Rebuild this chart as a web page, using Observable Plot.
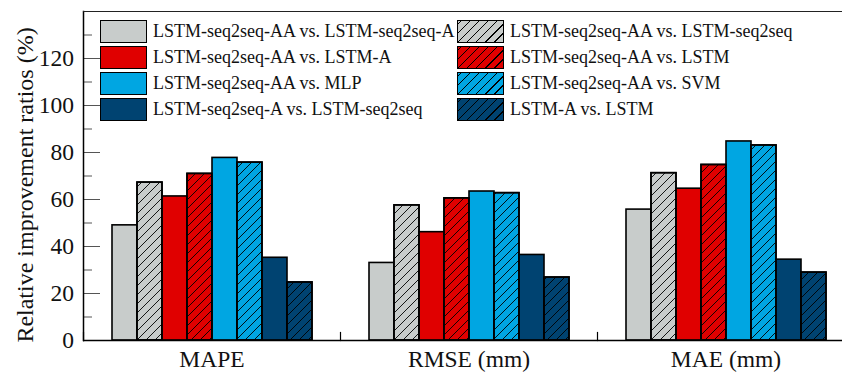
<!DOCTYPE html>
<html><head><meta charset="utf-8">
<script src="https://cdn.jsdelivr.net/npm/d3@7"></script>
<script src="https://cdn.jsdelivr.net/npm/@observablehq/plot@0.6"></script>
<style>
body{margin:0;background:#fff;overflow:hidden}
#wrap{position:relative;width:842px;height:372px;font-family:"Liberation Serif","Times New Roman",serif;color:#111}
#wrap svg{position:absolute;left:0;top:0}
.item{position:absolute;height:23px;display:flex;align-items:center;font-size:18px;white-space:nowrap}
.sw{box-sizing:border-box;width:47px;height:23px;border:1.7px solid #000;margin-right:6px}
</style></head><body><div id="wrap"></div>
<script>
const metrics = ["MAPE", "RMSE (mm)", "MAE (mm)"];
const series = [
  "LSTM-seq2seq-AA vs. LSTM-seq2seq-A",
  "LSTM-seq2seq-AA vs. LSTM-seq2seq",
  "LSTM-seq2seq-AA vs. LSTM-A",
  "LSTM-seq2seq-AA vs. LSTM",
  "LSTM-seq2seq-AA vs. MLP",
  "LSTM-seq2seq-AA vs. SVM",
  "LSTM-seq2seq-A vs. LSTM-seq2seq",
  "LSTM-A vs. LSTM"
];
const colors = ["#c8cccb", "#c8cccb", "#e00000", "#e00000", "#00a6e2", "#00a6e2", "#004371", "#004371"];
const hatched = [false, true, false, true, false, true, false, true];
const mapeValues = [49.0, 67.2, 61.3, 70.9, 77.7, 75.7, 35.2, 24.7];
const rmseValues = [33.0, 57.5, 46.1, 60.5, 63.4, 62.7, 36.4, 26.8];
const maeValues  = [55.7, 71.2, 64.6, 74.7, 84.7, 83.0, 34.4, 28.9];
const yTicks = [0, 20, 40, 60, 80, 100, 120];
const yMinorTicks = [10, 30, 50, 70, 90, 110, 130];
const yTitle = "Relative improvement ratios (%)";

const valuesByMetric = [mapeValues, rmseValues, maeValues];
const rows = [];
metrics.forEach((m, mi) => series.forEach((s, si) => rows.push({metric: m, series: s, value: valuesByMetric[mi][si], hatched: hatched[si]})));

const chart = Plot.plot({
  width: 842, height: 372,
  marginLeft: 83, marginRight: 0, marginTop: 11, marginBottom: 32,
  style: {fontFamily: "'Liberation Serif','Times New Roman',serif", fontSize: "23.5px", color: "#111", background: "white", overflow: "hidden"},
  fx: {domain: metrics, range: [83, 854], padding: 0, label: null},
  x: {domain: series, paddingInner: 0, paddingOuter: 0.99, axis: null},
  y: {domain: [0, 140], axis: null},
  color: {domain: series, range: colors},
  marks: [
    Plot.barY(rows, {fx: "metric", x: "series", y: "value", fill: "series", stroke: "black", strokeWidth: 1.6}),
    Plot.barY(rows.filter(d => d.hatched), {fx: "metric", x: "series", y: "value", fill: "url(#hatch)", stroke: "black", strokeWidth: 1.6}),
    Plot.axisY({ticks: yTicks, anchor: "left", tickSize: 0, tickPadding: 9.5, fontSize: 23.5, label: null, facetAnchor: "left"}),
    Plot.axisY({ticks: yTicks, anchor: "right", frameAnchor: "left", facetAnchor: "left", tickSize: 16, tickFormat: () => "", label: null, stroke: "#555"}),
    Plot.axisY({ticks: yMinorTicks, anchor: "right", frameAnchor: "left", facetAnchor: "left", tickSize: 8, tickFormat: () => "", label: null, stroke: "#555"}),
    Plot.frame({anchor: "left", facetAnchor: "left", stroke: "black", strokeWidth: 1.5}),
    Plot.frame({anchor: "top", stroke: "#222", strokeWidth: 1}),
    Plot.frame({anchor: "left", insetTop: 321, stroke: "black", strokeWidth: 1.2}),
    Plot.ruleY([0], {stroke: "black", strokeWidth: 1.5}),
    Plot.axisFx({anchor: "bottom", tickSize: 0, tickPadding: 10, fontSize: 23.5, label: null}),
    Plot.text([yTitle], {frameAnchor: "left", facetAnchor: "left", dx: -58, dy: 9, rotate: -90, fontSize: 24, textAnchor: "middle", fill: "#111"})
  ]
});

const defs = document.createElementNS("http://www.w3.org/2000/svg", "defs");
defs.innerHTML = '<pattern id="hatch" patternUnits="userSpaceOnUse" width="9" height="9"><path d="M0,9 L9,0 M-1,1 L1,-1 M8,10 L10,8" stroke="#000" stroke-width="0.9"/></pattern>';
chart.prepend(defs);

const wrap = document.getElementById("wrap");
wrap.appendChild(chart);

const colLeft = [100, 457];
const rowTop = [19.5, 45.7, 71.9, 98.1];
series.forEach((s, i) => {
  const col = i % 2, row = Math.floor(i / 2);
  const item = document.createElement("div");
  item.className = "item";
  item.style.left = colLeft[col] + "px";
  item.style.top = rowTop[row] + "px";
  const sw = document.createElement("div");
  sw.className = "sw";
  sw.style.background = hatched[i]
    ? `repeating-linear-gradient(-45deg, transparent 0 5.6px, #000 5.6px 6.4px), ${colors[i]}`
    : colors[i];
  const label = document.createElement("span");
  label.textContent = s;
  item.appendChild(sw);
  item.appendChild(label);
  wrap.appendChild(item);
});
</script></body></html>
